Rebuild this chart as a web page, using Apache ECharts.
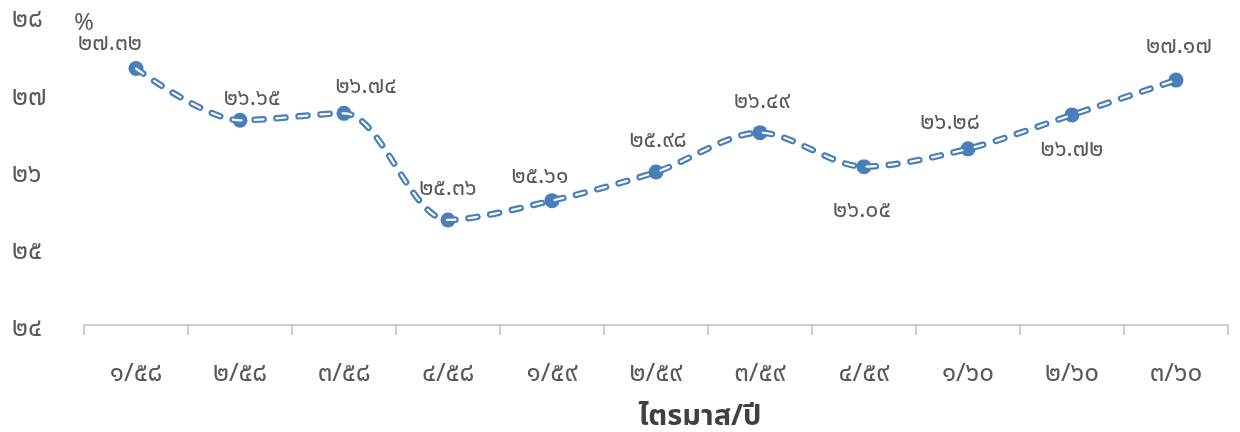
<!DOCTYPE html>
<html><head><meta charset="utf-8">
<script src="https://cdn.jsdelivr.net/npm/echarts@6/dist/echarts.min.js"></script>
<style>html,body{margin:0;padding:0;background:#fff}#c{width:1240px;height:432px}</style>
</head><body><div id="c"></div>
<script>
const categories = ['๑/๕๘','๒/๕๘','๓/๕๘','๔/๕๘','๑/๕๙','๒/๕๙','๓/๕๙','๔/๕๙','๑/๖๐','๒/๖๐','๓/๖๐'];
const values = [27.32, 26.65, 26.74, 25.36, 25.61, 25.98, 26.49, 26.05, 26.28, 26.72, 27.17];
const yTickValues = [24, 25, 26, 27, 28];
const yTickLabels = ['๒๔','๒๕','๒๖','๒๗','๒๘'];
const yUnit = '%';
const xTitle = 'ไตรมาส/ปี';

const thaiDigits = '๐๑๒๓๔๕๖๗๘๙';
const toThai = s => String(s).replace(/[0-9]/g, d => thaiDigits[+d]);

// label placement offsets (styling only)
const labelOffsets = [[-26,1],[12,4],[22,-1],[0,-6],[-12,2],[2,-6],[2,-5],[-2,70],[-18,-1],[0,60],[3,-8]];

const FONT = '"Tahoma","Noto Sans Thai","Noto Sans","DejaVu Sans",sans-serif';
const GRAY = '#595959';
const BLUE = '#4a7ebb';

const chart = echarts.init(document.getElementById('c'));
chart.setOption({
  animation: false,
  grid: {left: 84, right: 12, top: 16, bottom: 107, containLabel: false, outerBoundsMode: 'none'},
  xAxis: {
    type: 'category', data: categories, boundaryGap: true,
    axisLine: {lineStyle: {color: '#bfbfbf', width: 1.5}},
    axisTick: {show: true, length: 10, lineStyle: {color: '#bfbfbf', width: 1.5}},
    axisLabel: {color: GRAY, fontSize: 26, margin: 38, fontFamily: FONT},
    name: xTitle, nameLocation: 'middle', nameGap: 80,
    nameTextStyle: {color: '#404040', fontSize: 29, fontWeight: 'bold', fontFamily: FONT, padding: [0,0,0,88]}
  },
  yAxis: {
    type: 'value', min: 24, max: 28, interval: 1,
    axisLine: {show: false}, axisTick: {show: false}, splitLine: {show: false},
    axisLabel: {color: GRAY, fontSize: 26, margin: 72, align: 'left', fontFamily: FONT,
      formatter: v => '{t|' + (yTickLabels[yTickValues.indexOf(v)] || '') + '}',
      rich: {t: {color: GRAY, fontSize: 26, fontFamily: FONT, padding: [12,0,0,0]}}},
    name: yUnit, nameLocation: 'end', nameGap: -21,
    nameTextStyle: {color: GRAY, fontSize: 24, fontFamily: FONT, align: 'center', padding: [0,0,0,0]}
  },
  series: [
    {
      type: 'line', data: values.map((v,i) => ({value: v, label: {offset: labelOffsets[i]}})),
      smooth: 0.3, symbol: 'circle', symbolSize: 15,
      itemStyle: {color: BLUE},
      lineStyle: {color: BLUE, width: 6.5, type: [9, 13], cap: 'round'},
      label: {show: true, position: 'top', color: GRAY, fontSize: 23, fontFamily: FONT,
        formatter: p => toThai(p.value.toFixed(2))},
      z: 2
    },
    {
      type: 'line', data: values, smooth: 0.3, symbol: 'none',
      lineStyle: {color: '#ffffff', width: 2.2, type: [9, 13], cap: 'round'},
      silent: true, z: 3
    }
  ]
});
</script></body></html>
